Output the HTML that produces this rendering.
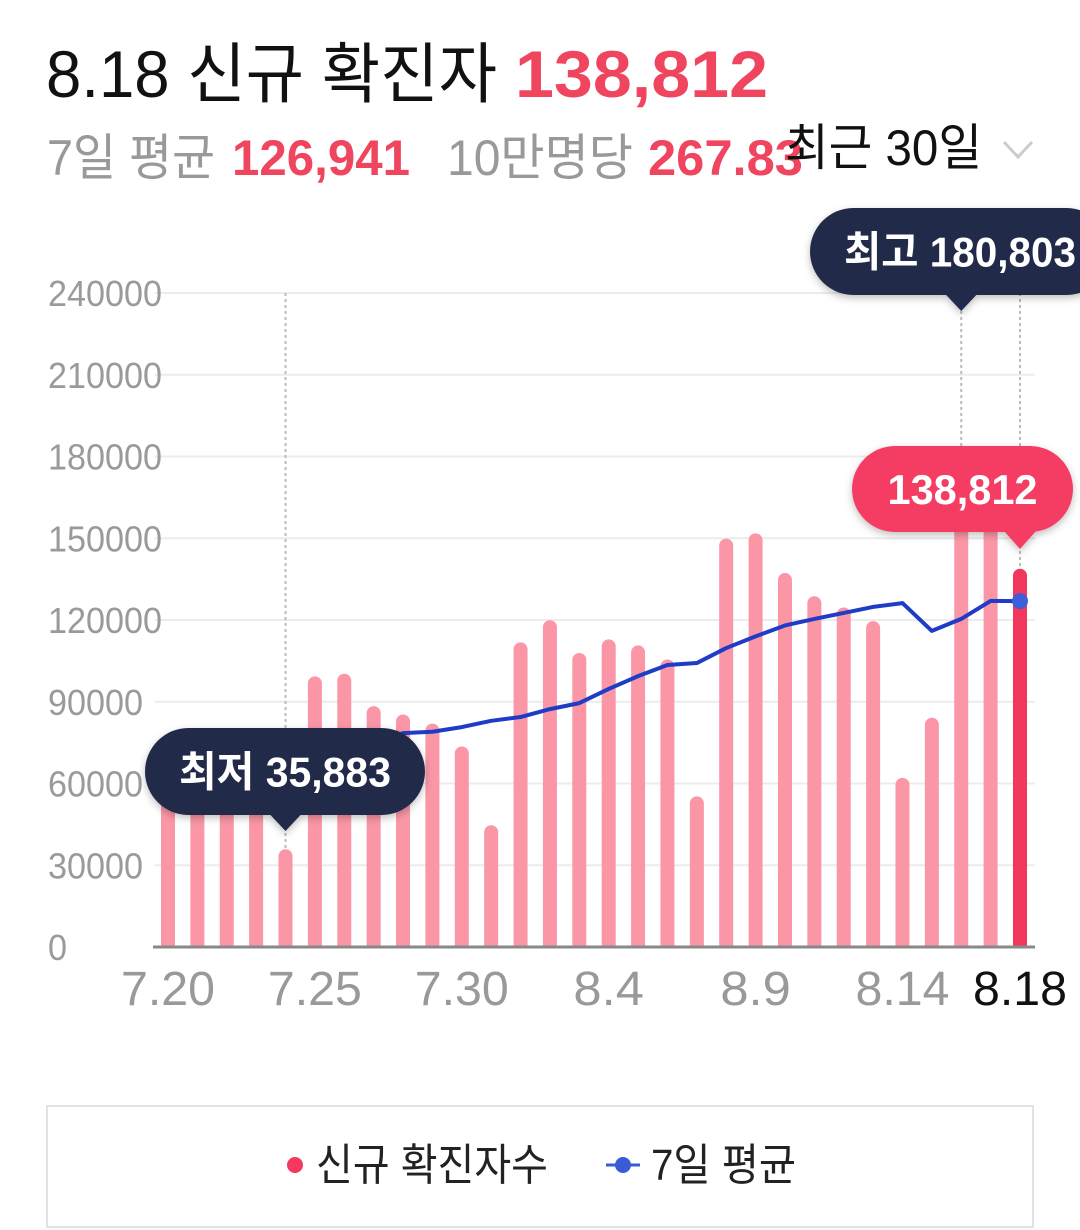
<!DOCTYPE html>
<html><head><meta charset="utf-8"><style>
html,body{margin:0;padding:0;background:#fff;width:1080px;height:1230px;overflow:hidden}
svg{display:block;font-family:"Liberation Sans","Noto Sans CJK KR",sans-serif}
</style></head><body>
<svg id="chart" width="1080" height="1230" viewBox="0 0 1080 1230">
<defs><filter id="sh" x="-10%" y="-20%" width="120%" height="150%"><feDropShadow dx="0" dy="3" stdDeviation="4" flood-opacity="0.25"/></filter></defs>
<g>
<text x="46" y="97" font-size="66" fill="#111" textLength="451" lengthAdjust="spacingAndGlyphs">8.18 신규 확진자</text>
<text x="515" y="97" font-size="66" font-weight="bold" fill="#f0455f" textLength="253" lengthAdjust="spacingAndGlyphs">138,812</text>
<text x="47" y="175" font-size="50" fill="#999" textLength="168" lengthAdjust="spacingAndGlyphs">7일 평균</text>
<text x="232" y="175" font-size="50" font-weight="bold" fill="#f0455f" textLength="178" lengthAdjust="spacingAndGlyphs">126,941</text>
<text x="447" y="175" font-size="50" fill="#999" textLength="186" lengthAdjust="spacingAndGlyphs">10만명당</text>
<text x="648" y="175" font-size="50" font-weight="bold" fill="#f0455f" textLength="155" lengthAdjust="spacingAndGlyphs">267.83</text>
<text x="785" y="165" font-size="50" fill="#111" textLength="197" lengthAdjust="spacingAndGlyphs">최근 30일</text>
<polyline points="1004,142 1018,157 1032,142" fill="none" stroke="#ccc" stroke-width="3"/>
</g>
<g id="grid"></g><g id="bars"></g><g id="line"></g><g id="xlab"></g>
<g>
<rect x="47" y="1106" width="986" height="121" fill="#fff" stroke="#e2e2e2" stroke-width="2"/>
<circle cx="295" cy="1165" r="8" fill="#f3395e"/>
<text x="316" y="1180" font-size="44" fill="#222" textLength="232" lengthAdjust="spacingAndGlyphs">신규 확진자수</text>
<line x1="606" y1="1165" x2="640" y2="1165" stroke="#3a5bd6" stroke-width="3"/>
<circle cx="623" cy="1165" r="8" fill="#3a5bd6"/>
<text x="651" y="1180" font-size="44" fill="#222" textLength="145" lengthAdjust="spacingAndGlyphs">7일 평균</text>
</g>
<g id="tips"></g>
</svg>
<script>
const dates=["7.20","7.21","7.22","7.23","7.24","7.25","7.26","7.27","7.28","7.29","7.30","7.31","8.1","8.2","8.3","8.4","8.5","8.6","8.7","8.8","8.9","8.10","8.11","8.12","8.13","8.14","8.15","8.16","8.17","8.18"];
const cases=[76402,71170,68632,65433,35883,99327,100285,88384,85320,81994,73589,44689,111789,119922,107894,112901,110666,105507,55292,149866,151792,137241,128714,124592,119603,62078,84128,180803,178574,138812];
const avg7=[66000,67500,68800,70000,67000,71500,72000,74000,78500,79000,80700,83000,84400,87300,89500,94700,99400,103500,104200,109700,114000,118000,120400,122600,124800,126200,116000,120400,127000,126941];
const yTicks=[0,30000,60000,90000,120000,150000,180000,210000,240000];
const xTickLabels=["7.20","7.25","7.30","8.4","8.9","8.14","8.18"];
const NS="http://www.w3.org/2000/svg";
const X0=168,X1=1020,Y0=947,Y1=293,YMAX=240000;
const xs=i=>X0+(X1-X0)*i/(dates.length-1);
const ys=v=>Y0-(Y0-Y1)*v/YMAX;
function mk(tag,at,parent){const e=document.createElementNS(NS,tag);for(const k in at)e.setAttribute(k,at[k]);parent.appendChild(e);return e;}
const grid=document.getElementById('grid');
yTicks.forEach(t=>{
  if(t>0){const l=mk('line',{x1:155,x2:1035,y1:ys(t),y2:ys(t),stroke:'#ececec','stroke-width':2},grid);
  
  }
  const s=String(t);
  const tx=mk('text',{x:48,y:ys(t)+13,'font-size':36,fill:'#9a9a9a',textLength:s.length*19,lengthAdjust:'spacingAndGlyphs'},grid);
  tx.textContent=s;
  
  
});
const maxI=cases.indexOf(Math.max(...cases)),minI=cases.indexOf(Math.min(...cases)),last=cases.length-1;
[minI,maxI,last].forEach(i=>{
  const d=mk('line',{x1:xs(i),x2:xs(i),y1:Y1,y2:Y0,stroke:'#bbb','stroke-width':2,'stroke-dasharray':'3 3'},grid);
  
  
});
const bars=document.getElementById('bars');
cases.forEach((v,i)=>{
  const top=ys(v),w=14;
  const p=mk('path',{d:`M${xs(i)-w/2},${Y0} L${xs(i)-w/2},${top+7} A7,7 0 0 1 ${xs(i)+w/2},${top+7} L${xs(i)+w/2},${Y0} Z`,fill:i===last?'#f2375c':'#fa96a6'},bars);
  
  
});
const ax=mk('line',{x1:153,x2:1035,y1:Y0,y2:Y0,stroke:'#888','stroke-width':3},bars);


const lg=document.getElementById('line');
const pl=mk('polyline',{points:avg7.map((v,i)=>xs(i)+','+ys(v)).join(' '),fill:'none',stroke:'#1e3cc6','stroke-width':4,'stroke-linejoin':'round'},lg);


const dot=mk('circle',{cx:xs(last),cy:ys(avg7[last]),r:8,fill:'#3f5fd8'},lg);


const xl=document.getElementById('xlab');
xTickLabels.forEach(lbl=>{
  const i=dates.indexOf(lbl);
  const t=mk('text',{x:xs(i),y:1005,'font-size':48,fill:lbl==="8.18"?'#111':'#999','text-anchor':'middle',textLength:lbl.length*23.5,lengthAdjust:'spacingAndGlyphs'},xl);
  t.textContent=lbl;
  
  
});
const tips=document.getElementById('tips');
function tip(name,x,y,w,h,px,py,fill,txt,tl){
  const g=mk('g',{filter:'url(#sh)'},tips);
  
  
  mk('rect',{x:x,y:y,width:w,height:h,rx:h/2,fill:fill},g);
  mk('polygon',{points:`${px-16},${y+h-1} ${px+16},${y+h-1} ${px},${py}`,fill:fill},g);
  const t=mk('text',{x:x+w/2,y:y+h/2+15,'font-size':42,'font-weight':'bold',fill:'#fff','text-anchor':'middle',textLength:tl,lengthAdjust:'spacingAndGlyphs'},g);
  t.textContent=txt;
}
tip('min-tooltip',145,728,280,87,xs(minI),831,'#222a4a','최저 '+cases[minI].toLocaleString('en-US'),212);
tip('max-tooltip',810,208,300,87,xs(maxI),311,'#222a4a','최고 '+cases[maxI].toLocaleString('en-US'),232);
tip('current-tooltip',852,446,221,86,xs(last),549,'#f53d63',cases[last].toLocaleString('en-US'),150);
</script>
</body></html>
